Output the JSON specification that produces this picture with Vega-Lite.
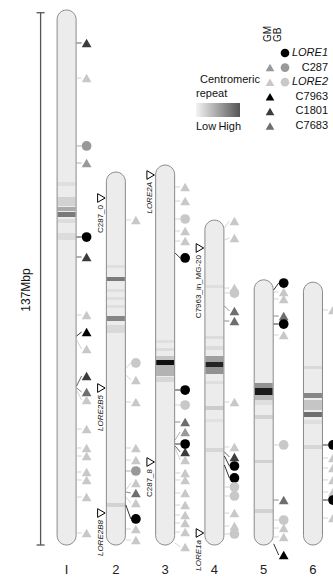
{
"$schema":"https://vega.github.io/schema/vega-lite/v6.json",
"width":333,"height":578,"padding":0,"autosize":{"type":"none"},
"background":"#ffffff",
"config":{"view":{"stroke":null},"text":{"font":"Liberation Sans","color":"#111111"}},
"datasets":{
"chroms":[{"chr":1,"name":"I","len":137.0},{"chr":2,"name":"2","len":95.5},{"chr":3,"name":"3","len":97.3},{"chr":4,"name":"4","len":83.2},{"chr":5,"name":"5","len":67.9},{"chr":6,"name":"6","len":67.3}],
"bands":[
{"chr":1,"top":92.96,"bottom":91.93,"density":0.05},{"chr":1,"top":89.12,"bottom":86.81,"density":0.1},{"chr":1,"top":86.56,"bottom":85.53,"density":0.25},{"chr":1,"top":85.27,"bottom":84.0,"density":0.45},{"chr":1,"top":83.48,"bottom":82.46,"density":0.06},{"chr":1,"top":79.9,"bottom":78.1,"density":0.06},
{"chr":2,"top":71.7,"bottom":70.93,"density":0.05},{"chr":2,"top":68.63,"bottom":67.61,"density":0.45},{"chr":2,"top":65.56,"bottom":64.79,"density":0.05},{"chr":2,"top":63.51,"bottom":62.74,"density":0.05},{"chr":2,"top":61.46,"bottom":60.69,"density":0.05},{"chr":2,"top":58.64,"bottom":57.36,"density":0.4},{"chr":2,"top":56.34,"bottom":54.29,"density":0.07},{"chr":2,"top":10.76,"bottom":9.73,"density":0.1},
{"chr":3,"top":52.5,"bottom":51.73,"density":0.05},{"chr":3,"top":50.45,"bottom":49.68,"density":0.06},{"chr":3,"top":48.4,"bottom":47.37,"density":0.15},{"chr":3,"top":47.37,"bottom":46.09,"density":0.95},{"chr":3,"top":46.09,"bottom":43.28,"density":0.22},{"chr":3,"top":43.02,"bottom":41.74,"density":0.08},
{"chr":4,"top":66.58,"bottom":65.81,"density":0.05},{"chr":4,"top":53.52,"bottom":52.75,"density":0.06},{"chr":4,"top":50.96,"bottom":49.94,"density":0.06},{"chr":4,"top":48.4,"bottom":46.86,"density":0.3},{"chr":4,"top":46.86,"bottom":45.58,"density":0.85},{"chr":4,"top":45.58,"bottom":43.79,"density":0.35},{"chr":4,"top":42.0,"bottom":41.23,"density":0.05},{"chr":4,"top":35.6,"bottom":34.57,"density":0.12},{"chr":4,"top":32.27,"bottom":31.5,"density":0.04},{"chr":4,"top":24.84,"bottom":23.82,"density":0.08},
{"chr":5,"top":41.48,"bottom":40.2,"density":0.35},{"chr":5,"top":40.2,"bottom":38.41,"density":0.9},{"chr":5,"top":38.41,"bottom":37.13,"density":0.2},{"chr":5,"top":37.13,"bottom":35.85,"density":0.05},{"chr":5,"top":33.29,"bottom":32.27,"density":0.1},{"chr":5,"top":21.77,"bottom":21.0,"density":0.1},{"chr":5,"top":9.22,"bottom":8.19,"density":0.1},
{"chr":6,"top":45.84,"bottom":45.07,"density":0.07},{"chr":6,"top":38.92,"bottom":37.64,"density":0.4},{"chr":6,"top":37.13,"bottom":34.57,"density":0.15},{"chr":6,"top":34.06,"bottom":32.78,"density":0.5},{"chr":6,"top":32.01,"bottom":30.99,"density":0.05},{"chr":6,"top":25.61,"bottom":24.58,"density":0.08}
],
"markers":[
{"chr":1,"series":"C1801","col":"GM","pos":128.55,"disp":128.55},
{"chr":1,"series":"LORE2","col":"GM","pos":119.59,"disp":119.59},
{"chr":1,"series":"C287","col":"GB","pos":102.18,"disp":102.18},
{"chr":1,"series":"C287","col":"GM","pos":97.82,"disp":97.82},
{"chr":1,"series":"LORE1","col":"GB","pos":78.87,"disp":78.87},
{"chr":1,"series":"C1801","col":"GM","pos":73.75,"disp":73.75},
{"chr":1,"series":"LORE2","col":"GM","pos":58.9,"disp":58.9},
{"chr":1,"series":"C7963","col":"GM","pos":53.52,"disp":54.55},
{"chr":1,"series":"LORE2","col":"GM","pos":52.5,"disp":50.19},
{"chr":1,"series":"C1801","col":"GM","pos":40.72,"disp":43.28},
{"chr":1,"series":"C7683","col":"GM","pos":40.2,"disp":39.18},
{"chr":1,"series":"LORE2","col":"GM","pos":39.69,"disp":37.13},
{"chr":1,"series":"LORE2","col":"GM","pos":29.71,"disp":29.71},
{"chr":1,"series":"LORE2","col":"GM","pos":24.84,"disp":24.84},
{"chr":1,"series":"LORE2","col":"GM","pos":22.79,"disp":22.79},
{"chr":1,"series":"LORE2","col":"GM","pos":18.69,"disp":18.69},
{"chr":1,"series":"LORE2","col":"GM","pos":16.65,"disp":16.65},
{"chr":1,"series":"LORE2","col":"GM","pos":12.29,"disp":12.29},
{"chr":1,"series":"LORE2","col":"GM","pos":3.07,"disp":3.07},
{"chr":2,"series":"LORE2","col":"GM","pos":83.23,"disp":83.23},
{"chr":2,"series":"LORE2","col":"GB","pos":45.33,"disp":46.61},
{"chr":2,"series":"LORE2","col":"GM","pos":43.53,"disp":42.25},
{"chr":2,"series":"LORE2","col":"GM","pos":36.62,"disp":36.62},
{"chr":2,"series":"LORE2","col":"GM","pos":24.84,"disp":24.84},
{"chr":2,"series":"LORE2","col":"GM","pos":21.77,"disp":21.77},
{"chr":2,"series":"C287","col":"GB","pos":18.95,"disp":18.95},
{"chr":2,"series":"LORE2","col":"GM","pos":14.08,"disp":15.88},
{"chr":2,"series":"C7683","col":"GM","pos":13.57,"disp":13.32},
{"chr":2,"series":"LORE2","col":"GM","pos":12.29,"disp":10.76},
{"chr":2,"series":"LORE1","col":"GB","pos":10.24,"disp":6.66},
{"chr":2,"series":"LORE2","col":"GM","pos":4.1,"disp":4.1},
{"chr":2,"series":"LORE2","col":"GM","pos":1.28,"disp":1.28},
{"chr":3,"series":"LORE2","col":"GM","pos":91.68,"disp":91.68},
{"chr":3,"series":"LORE2","col":"GM","pos":88.09,"disp":88.09},
{"chr":3,"series":"LORE2","col":"GB","pos":83.48,"disp":83.48},
{"chr":3,"series":"LORE2","col":"GM","pos":80.41,"disp":80.41},
{"chr":3,"series":"LORE2","col":"GM","pos":77.85,"disp":77.85},
{"chr":3,"series":"LORE1","col":"GB","pos":74.78,"disp":73.5},
{"chr":3,"series":"LORE1","col":"GB","pos":39.69,"disp":39.69},
{"chr":3,"series":"LORE2","col":"GB","pos":35.85,"disp":35.85},
{"chr":3,"series":"C7683","col":"GM","pos":31.5,"disp":31.5},
{"chr":3,"series":"C287","col":"GM","pos":26.89,"disp":28.94},
{"chr":3,"series":"LORE1","col":"GB","pos":25.86,"disp":25.86},
{"chr":3,"series":"C1801","col":"GM","pos":25.35,"disp":23.82},
{"chr":3,"series":"LORE2","col":"GM","pos":24.84,"disp":21.77},
{"chr":3,"series":"LORE2","col":"GM","pos":18.44,"disp":18.44},
{"chr":3,"series":"LORE2","col":"GM","pos":16.65,"disp":16.65},
{"chr":3,"series":"LORE2","col":"GM","pos":13.32,"disp":13.32},
{"chr":3,"series":"LORE2","col":"GM","pos":10.24,"disp":10.24},
{"chr":3,"series":"LORE2","col":"GM","pos":7.68,"disp":7.68},
{"chr":3,"series":"LORE2","col":"GM","pos":5.63,"disp":5.63},
{"chr":3,"series":"LORE2","col":"GM","pos":3.33,"disp":3.33},
{"chr":3,"series":"LORE2","col":"GM","pos":0.5,"disp":-0.51},
{"chr":4,"series":"LORE2","col":"GM","pos":81.18,"disp":82.97},
{"chr":4,"series":"LORE2","col":"GM","pos":78.1,"disp":78.62},
{"chr":4,"series":"LORE2","col":"GM","pos":65.81,"disp":65.81},
{"chr":4,"series":"LORE2","col":"GB","pos":64.53,"disp":64.53},
{"chr":4,"series":"C7683","col":"GM","pos":61.2,"disp":59.92},
{"chr":4,"series":"C7683","col":"GM","pos":57.36,"disp":57.36},
{"chr":4,"series":"LORE2","col":"GM","pos":36.62,"disp":36.62},
{"chr":4,"series":"LORE2","col":"GM","pos":25.1,"disp":25.1},
{"chr":4,"series":"C1801","col":"GM","pos":23.82,"disp":22.54},
{"chr":4,"series":"LORE1","col":"GB","pos":22.79,"disp":20.23},
{"chr":4,"series":"LORE1","col":"GB","pos":20.49,"disp":17.16},
{"chr":4,"series":"LORE2","col":"GB","pos":14.85,"disp":14.85},
{"chr":4,"series":"LORE2","col":"GB","pos":12.55,"disp":12.55},
{"chr":4,"series":"LORE2","col":"GM","pos":8.19,"disp":8.19},
{"chr":4,"series":"LORE2","col":"GM","pos":4.87,"disp":4.87},
{"chr":4,"series":"LORE2","col":"GB","pos":2.82,"disp":2.82},
{"chr":5,"series":"LORE1","col":"GB","pos":65.3,"disp":67.09},
{"chr":5,"series":"LORE2","col":"GM","pos":64.79,"disp":64.79},
{"chr":5,"series":"LORE2","col":"GM","pos":63.0,"disp":63.0},
{"chr":5,"series":"C7683","col":"GM","pos":58.64,"disp":58.64},
{"chr":5,"series":"LORE1","col":"GB","pos":56.59,"disp":56.59},
{"chr":5,"series":"LORE2","col":"GM","pos":53.78,"disp":53.78},
{"chr":5,"series":"LORE2","col":"GB","pos":25.61,"disp":25.61},
{"chr":5,"series":"C7683","col":"GM","pos":11.52,"disp":11.52},
{"chr":5,"series":"LORE2","col":"GB","pos":6.4,"disp":6.4},
{"chr":5,"series":"LORE2","col":"GM","pos":4.35,"disp":4.35},
{"chr":5,"series":"LORE2","col":"GM","pos":2.05,"disp":2.05},
{"chr":5,"series":"C7963","col":"GM","pos":0.3,"disp":-2.56},
{"chr":6,"series":"LORE2","col":"GM","pos":60.18,"disp":60.18},
{"chr":6,"series":"LORE1","col":"GB","pos":25.61,"disp":25.61},
{"chr":6,"series":"LORE2","col":"GM","pos":22.28,"disp":22.28},
{"chr":6,"series":"LORE2","col":"GM","pos":19.72,"disp":19.72},
{"chr":6,"series":"LORE2","col":"GM","pos":16.65,"disp":16.65},
{"chr":6,"series":"LORE2","col":"GM","pos":13.57,"disp":13.57},
{"chr":6,"series":"LORE1","col":"GB","pos":11.52,"disp":11.52},
{"chr":6,"series":"LORE2","col":"GM","pos":6.91,"disp":6.91}
],
"inserts":[
{"chr":2,"pos":88.86,"label":"C287_0","italic":false},
{"chr":2,"pos":40.2,"label":"LORE2B5","italic":true},
{"chr":2,"pos":8.19,"label":"LORE2B8","italic":true},
{"chr":3,"pos":94.75,"label":"LORE2A","italic":true},
{"chr":3,"pos":21.25,"label":"C287_8","italic":false},
{"chr":4,"pos":76.06,"label":"C7963_in_MG-20","italic":false},
{"chr":4,"pos":3.07,"label":"LORE1a","italic":true}
],
"legendSym":[
{"series":"LORE1","col":"GB"},{"series":"C287","col":"GM"},{"series":"C287","col":"GB"},{"series":"LORE2","col":"GM"},{"series":"LORE2","col":"GB"},{"series":"C7963","col":"GM"},{"series":"C1801","col":"GM"},{"series":"C7683","col":"GM"}
],
"legendLab":[
{"series":"LORE1","italic":true},{"series":"C287","italic":false},{"series":"LORE2","italic":true},{"series":"C7963","italic":false},{"series":"C1801","italic":false},{"series":"C7683","italic":false}
]
},
"layer":[
{"layer":[
{"data":{"name":"chroms"},
 "mark":{"type":"bar","size":19,"cornerRadius":9.5,"fill":"#ececec"},
 "encoding":{
  "x":{"field":"chr","type":"quantitative","scale":{"domain":[-0.25,6.305],"nice":false,"zero":false},"axis":null},
  "y":{"field":"len","type":"quantitative","scale":{"domain":[-8.45,139.56],"nice":false,"zero":false},"axis":null},
  "y2":{"datum":0}}},
{"data":{"name":"bands"},
 "mark":{"type":"bar","size":18},
 "encoding":{
  "x":{"field":"chr","type":"quantitative","axis":null},
  "y":{"field":"top","type":"quantitative","axis":null},
  "y2":{"field":"bottom"},
  "fill":{"field":"density","type":"quantitative","scale":{"domain":[0,1],"range":["#ececec","#000000"]},"legend":null}}},
{"data":{"name":"chroms"},
 "mark":{"type":"bar","size":19,"cornerRadius":9.5,"fillOpacity":0,"stroke":"#8a8a8a","strokeWidth":1},
 "encoding":{
  "x":{"field":"chr","type":"quantitative","axis":null},
  "y":{"field":"len","type":"quantitative","axis":null},
  "y2":{"datum":0}}},
{"data":{"name":"markers"},
 "mark":{"type":"rule","xOffset":10,"x2Offset":15,"strokeWidth":0.8},
 "encoding":{
  "x":{"field":"chr","type":"quantitative","axis":null},
  "x2":{"field":"chr"},
  "y":{"field":"pos","type":"quantitative","axis":null},
  "y2":{"field":"disp"},
  "color":{"field":"series","type":"nominal","scale":{"domain":["LORE1","C287","LORE2","C7963","C1801","C7683"],"range":["#000000","#999999","#c8c8c8","#000000","#3c3c3c","#6e6e6e"]},"legend":null}}},
{"data":{"name":"markers"},
 "mark":{"type":"point","filled":true,"size":95,"opacity":1,"xOffset":20},
 "encoding":{
  "x":{"field":"chr","type":"quantitative","axis":null},
  "y":{"field":"disp","type":"quantitative","axis":null},
  "color":{"field":"series","type":"nominal","legend":null},
  "shape":{"field":"col","type":"nominal","scale":{"domain":["GM","GB"],"range":["triangle-up","circle"]},"legend":null}}},
{"data":{"name":"inserts"},
 "mark":{"type":"point","shape":"triangle-right","size":75,"filled":true,"fill":"#ffffff","stroke":"#000000","strokeWidth":1,"opacity":1,"xOffset":-14.5},
 "encoding":{
  "x":{"field":"chr","type":"quantitative","axis":null},
  "y":{"field":"pos","type":"quantitative","axis":null}}},
{"data":{"name":"inserts"},
 "transform":[{"filter":"!datum.italic"}],
 "mark":{"type":"text","angle":270,"align":"right","baseline":"middle","fontSize":8,"color":"#111111","xOffset":-15,"yOffset":7},
 "encoding":{
  "x":{"field":"chr","type":"quantitative","axis":null},
  "y":{"field":"pos","type":"quantitative","axis":null},
  "text":{"field":"label"}}},
{"data":{"name":"inserts"},
 "transform":[{"filter":"datum.italic"}],
 "mark":{"type":"text","angle":270,"align":"right","baseline":"middle","fontSize":8,"fontStyle":"italic","color":"#111111","xOffset":-15,"yOffset":7},
 "encoding":{
  "x":{"field":"chr","type":"quantitative","axis":null},
  "y":{"field":"pos","type":"quantitative","axis":null},
  "text":{"field":"label"}}},
{"data":{"name":"chroms"},
 "mark":{"type":"text","fontSize":13,"baseline":"middle","align":"center","yOffset":25,"color":"#222222"},
 "encoding":{
  "x":{"field":"chr","type":"quantitative","axis":null},
  "y":{"datum":0,"type":"quantitative","axis":null},
  "text":{"field":"name"}}},
{"data":{"values":[{"from":0,"to":136.3}]},
 "mark":{"type":"rule","xOffset":-26,"color":"#555555","strokeWidth":1.3},
 "encoding":{
  "x":{"datum":1,"type":"quantitative","axis":null},
  "y":{"field":"from","type":"quantitative","axis":null},
  "y2":{"field":"to"}}},
{"data":{"values":[{"end":0},{"end":136.3}]},
 "mark":{"type":"rule","xOffset":-30,"x2Offset":-22,"color":"#555555","strokeWidth":1.3},
 "encoding":{
  "x":{"datum":1,"type":"quantitative","axis":null},
  "x2":{"datum":1},
  "y":{"field":"end","type":"quantitative","axis":null}}},
{"data":{"values":[{"t":"137Mbp"}]},
 "mark":{"type":"text","angle":270,"align":"center","baseline":"middle","fontSize":12,"xOffset":-41},
 "encoding":{
  "x":{"datum":1,"type":"quantitative","axis":null},
  "y":{"datum":65.3,"type":"quantitative","axis":null},
  "text":{"field":"t"}}}
]},
{"layer":[
{"data":{"name":"legendSym"},
 "mark":{"type":"point","filled":true,"size":75,"opacity":1},
 "encoding":{
  "x":{"field":"col","type":"nominal","scale":{"type":"point","domain":["GM","GB"],"range":[270,285],"padding":0},"axis":null},
  "y":{"field":"series","type":"nominal","scale":{"type":"point","domain":["LORE1","C287","LORE2","C7963","C1801","C7683"],"range":[53,126],"padding":0},"axis":null},
  "color":{"field":"series","type":"nominal","legend":null},
  "shape":{"field":"col","type":"nominal","legend":null}}},
{"data":{"values":[{"h":"GM"}]},
 "mark":{"type":"text","angle":270,"align":"left","baseline":"middle","fontSize":10,"xOffset":-2,"yOffset":-11},
 "encoding":{
  "x":{"datum":"GM","type":"nominal","axis":null},
  "y":{"datum":"LORE1","type":"nominal","axis":null},
  "text":{"field":"h"}}},
{"data":{"values":[{"h":"GB"}]},
 "mark":{"type":"text","angle":270,"align":"left","baseline":"middle","fontSize":10,"xOffset":-7,"yOffset":-11},
 "encoding":{
  "x":{"datum":"GB","type":"nominal","axis":null},
  "y":{"datum":"LORE1","type":"nominal","axis":null},
  "text":{"field":"h"}}},
{"data":{"name":"legendLab"},
 "transform":[{"filter":"!datum.italic"}],
 "mark":{"type":"text","align":"right","baseline":"middle","fontSize":11,"xOffset":43},
 "encoding":{
  "x":{"datum":"GB","type":"nominal","axis":null},
  "y":{"field":"series","type":"nominal","axis":null},
  "text":{"field":"series"}}},
{"data":{"name":"legendLab"},
 "transform":[{"filter":"datum.italic"}],
 "mark":{"type":"text","align":"right","baseline":"middle","fontSize":11,"fontStyle":"italic","xOffset":43},
 "encoding":{
  "x":{"datum":"GB","type":"nominal","axis":null},
  "y":{"field":"series","type":"nominal","axis":null},
  "text":{"field":"series"}}},
{"data":{"values":[{}]},
 "mark":{"type":"rect","xOffset":-74,"x2Offset":-30,"yOffset":-8.4,"y2Offset":5.6,
  "fill":{"gradient":"linear","x1":0,"y1":0,"x2":1,"y2":0,"stops":[{"offset":0,"color":"#f4f4f4"},{"offset":1,"color":"#555555"}]}},
 "encoding":{
  "x":{"datum":"GM","type":"nominal","axis":null},
  "x2":{"datum":"GM"},
  "y":{"datum":"C1801","type":"nominal","axis":null},
  "y2":{"datum":"C1801"}}},
{"data":{"values":[{"t":"Centromeric"}]},
 "mark":{"type":"text","align":"left","baseline":"middle","fontSize":11,"xOffset":-70,"yOffset":-2},
 "encoding":{
  "x":{"datum":"GM","type":"nominal","axis":null},
  "y":{"datum":"LORE2","type":"nominal","axis":null},
  "text":{"field":"t"}}},
{"data":{"values":[{"t":"repeat"}]},
 "mark":{"type":"text","align":"left","baseline":"middle","fontSize":11,"xOffset":-74,"yOffset":-3},
 "encoding":{
  "x":{"datum":"GM","type":"nominal","axis":null},
  "y":{"datum":"C7963","type":"nominal","axis":null},
  "text":{"field":"t"}}},
{"data":{"values":[{"t":"Low"}]},
 "mark":{"type":"text","align":"left","baseline":"middle","fontSize":11,"xOffset":-74,"yOffset":1},
 "encoding":{
  "x":{"datum":"GM","type":"nominal","axis":null},
  "y":{"datum":"C7683","type":"nominal","axis":null},
  "text":{"field":"t"}}},
{"data":{"values":[{"t":"High"}]},
 "mark":{"type":"text","align":"right","baseline":"middle","fontSize":11,"xOffset":-29,"yOffset":1},
 "encoding":{
  "x":{"datum":"GM","type":"nominal","axis":null},
  "y":{"datum":"C7683","type":"nominal","axis":null},
  "text":{"field":"t"}}}
]}
],
"resolve":{"scale":{"x":"independent","y":"independent"}}
}
